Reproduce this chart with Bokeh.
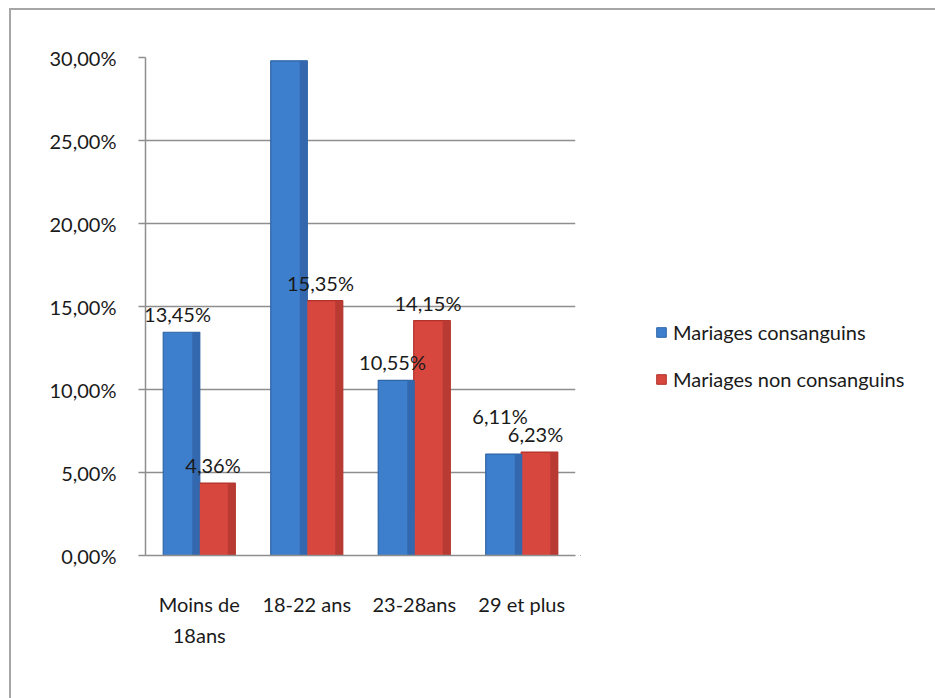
from bokeh.plotting import figure
from bokeh.layouts import row
from bokeh.models import (ColumnDataSource, FactorRange, CustomJSTickFormatter,
                          FixedTicker, Legend, LegendItem)
from bokeh.transform import dodge
from bokeh.core.properties import value
from bokeh.embed import file_html
from bokeh.resources import INLINE

# ---------------- data ----------------
categories = ["Moins de\n18ans", "18-22 ans", "23-28ans", "29 et plus"]
series_names = ["Mariages consanguins", "Mariages non consanguins"]
consanguins = [13.45, 29.80, 10.55, 6.11]
non_consanguins = [4.36, 15.35, 14.15, 6.23]
y_ticks = [0, 5, 10, 15, 20, 25, 30]

# ---------------- styles ----------------
FONT = "Lato"
FS = "20px"
BLUE, BLUE_EDGE, BLUE_SIDE = "#3E7FCD", "#2D64A5", "#3368AE"
RED, RED_EDGE, RED_SIDE = "#D8473E", "#B0322B", "#B93A32"
GRID = "#8E8E8E"
TEXT = "#1a1a1a"
BAR_W = 0.34
OFFS = 0.165
SIDE_W = 0.07
OX, OY = 11, 10          # canvas origin inside the bordered chart area
W, H = 935 - OX, 698 - OY
P_W = 569                # width of the plot part; the legend part takes the rest


def fmt(v):
    return f"{v:.2f}".replace(".", ",") + "%"


# lift a label when the two bars of a group are nearly equal (avoid overlap)
lift_blue = [20 if abs(a - b) < 1 else 0 for a, b in zip(consanguins, non_consanguins)]

src = ColumnDataSource(dict(cat=categories, blue=consanguins, red=non_consanguins))

p = figure(width=P_W, height=H, x_range=FactorRange(*categories),
           y_range=(0, 30), output_backend="svg", toolbar_location=None,
           min_border_left=145 - OX, min_border_right=P_W - (575 - OX),
           min_border_top=57 - OY, min_border_bottom=143)
p.outline_line_color = None
p.background_fill_color = "white"
p.border_fill_color = "white"

p.vbar(x=dodge("cat", -OFFS, range=p.x_range), top="blue", width=BAR_W, source=src,
       fill_color=BLUE, line_color=BLUE_EDGE, line_width=1.2)
p.vbar(x=dodge("cat", OFFS, range=p.x_range), top="red", width=BAR_W, source=src,
       fill_color=RED, line_color=RED_EDGE, line_width=1.2)
# shaded right side of each bar (pseudo 3-D bevel)
p.vbar(x=dodge("cat", -OFFS + BAR_W / 2 - SIDE_W / 2, range=p.x_range), top="blue",
       width=SIDE_W, source=src, fill_color=BLUE_SIDE, line_color=None)
p.vbar(x=dodge("cat", OFFS + BAR_W / 2 - SIDE_W / 2, range=p.x_range), top="red",
       width=SIDE_W, source=src, fill_color=RED_SIDE, line_color=None)

# data labels
blue_src = ColumnDataSource(dict(x=categories, y=consanguins,
                                 t=[fmt(v) for v in consanguins],
                                 dy=[-6 - l for l in lift_blue]))
red_src = ColumnDataSource(dict(x=categories, y=non_consanguins,
                                t=[fmt(v) for v in non_consanguins],
                                dy=[-6] * len(categories)))
for s, off in ((blue_src, -OFFS), (red_src, OFFS)):
    p.text(x=dodge("x", off, range=p.x_range), y="y", text="t", source=s,
           y_offset="dy", x_offset=-4, text_align="center", text_baseline="bottom",
           text_font=value(FONT), text_font_size=FS, text_color=TEXT)

# axes
p.yaxis.ticker = FixedTicker(ticks=y_ticks)
p.yaxis.formatter = CustomJSTickFormatter(code="return tick.toFixed(2).replace('.', ',') + '%';")
p.yaxis.axis_line_color = GRID
p.yaxis.axis_line_width = 1.5
p.yaxis.major_tick_line_color = GRID
p.yaxis.major_tick_line_width = 1.5
p.yaxis.major_tick_out = 7
p.yaxis.major_tick_in = 0
p.yaxis.minor_tick_line_color = None
p.yaxis.major_label_standoff = 22
p.yaxis.major_label_text_font = FONT
p.yaxis.major_label_text_font_size = FS
p.yaxis.major_label_text_color = TEXT

p.xaxis.axis_line_color = GRID
p.xaxis.axis_line_width = 1.5
p.xaxis.major_tick_line_color = None
p.xaxis.minor_tick_line_color = None
p.xaxis.major_label_standoff = 30
p.xaxis.major_label_text_font = FONT
p.xaxis.major_label_text_font_size = FS
p.xaxis.major_label_text_color = TEXT
p.xaxis.major_label_text_line_height = 1.3

p.xgrid.grid_line_color = None
p.ygrid.grid_line_color = GRID
p.ygrid.grid_line_width = 1.5

# legend panel (a frame of its own next to the plot; frames are aligned in a row)
q = figure(width=W - P_W, height=H, x_range=(0, 1), y_range=(0, 1),
           output_backend="svg", toolbar_location=None,
           x_axis_location=None, y_axis_location=None,
           min_border_left=0, min_border_right=0, min_border_top=0, min_border_bottom=0)
q.outline_line_color = None
q.xgrid.grid_line_color = None
q.ygrid.grid_line_color = None
# legend swatches: proxy glyphs whose only point lies outside the visible range
proxy = ColumnDataSource(dict(x=[-10], top=[-10]))
kb = q.vbar(x="x", top="top", width=0.1, source=proxy, fill_color=BLUE, line_color=BLUE_EDGE)
kr = q.vbar(x="x", top="top", width=0.1, source=proxy, fill_color=RED, line_color=RED_EDGE)
lg = Legend(items=[LegendItem(label=series_names[0], renderers=[kb]),
                   LegendItem(label=series_names[1], renderers=[kr])],
            location=(655 - (OX + P_W), 555 - 391))
lg.padding = 0
lg.margin = 0
lg.border_line_color = None
lg.background_fill_alpha = 0
lg.glyph_width = 12
lg.glyph_height = 12
lg.label_height = 22
lg.spacing = 23
lg.label_standoff = 6
lg.label_text_font = FONT
lg.label_text_font_size = FS
lg.label_text_color = TEXT
q.add_layout(lg)

lay = row(p, q)
lay.styles = {"margin-left": "9px", "margin-top": "8px",
              "border-left": "2px solid #A6A6A6", "border-top": "2px solid #A6A6A6"}

open("out.html", "w").write(file_html(lay, INLINE))
